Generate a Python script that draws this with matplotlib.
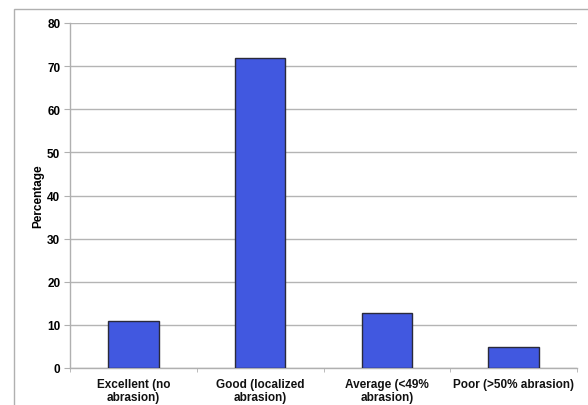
import numpy as np
import matplotlib.pyplot as plt
from matplotlib.patches import Rectangle

categories = ["Excellent (no\nabrasion)", "Good (localized\nabrasion)",
              "Average (<49%\nabrasion)", "Poor (>50% abrasion)"]
percentages = [10.8, 71.8, 12.7, 4.9]
y_ticks = [0, 10, 20, 30, 40, 50, 60, 70, 80]

plt.rcParams['font.family'] = ['Liberation Sans', 'DejaVu Sans']
plt.rcParams['font.weight'] = 'bold'

fig = plt.figure(figsize=(5.88, 4.06), dpi=100)
ax = fig.add_axes([70 / 588, 37 / 406, 507 / 588, 345 / 406])

# outer chart frame, only left and top edges fall inside the image
fig.patches.append(Rectangle((14 / 588, -0.2), 1.2, (406 - 10) / 406 + 0.2,
                             transform=fig.transFigure, fill=False,
                             edgecolor='#b0b0b0', linewidth=1.0))

x = np.arange(len(categories))
ax.bar(x, percentages, width=0.4, color='#4158e0', edgecolor='#2a2a3a',
       linewidth=1.0, zorder=3)

ax.set_xlim(-0.5, len(categories) - 0.5)
ax.set_ylim(0, 80)
ax.set_yticks(y_ticks)
ax.set_yticklabels([str(v) for v in y_ticks], fontsize=8.5, fontweight='bold')
ax.set_xticks(x)
ax.set_xticklabels(categories, fontsize=8.5, fontweight='bold', color='#111111',
                   linespacing=1.1)
ax.set_xticks(np.arange(-0.5, len(categories)), minor=True)
ax.tick_params(axis='x', which='major', length=0, pad=7)
ax.tick_params(axis='x', which='minor', length=3, color='#b0b0b0', direction='out')
ax.tick_params(axis='y', length=4, color='#b0b0b0', pad=3)

ax.yaxis.grid(True, color='#b4b4b4', linewidth=1.0, zorder=0)
for side in ['top', 'right']:
    ax.spines[side].set_visible(False)
for side in ['left', 'bottom']:
    ax.spines[side].set_color('#b0b0b0')
    ax.spines[side].set_linewidth(1.0)

ax.set_ylabel("Percentage", fontsize=8.5, fontweight='bold', labelpad=2)

fig.savefig("out.png", dpi=100)
